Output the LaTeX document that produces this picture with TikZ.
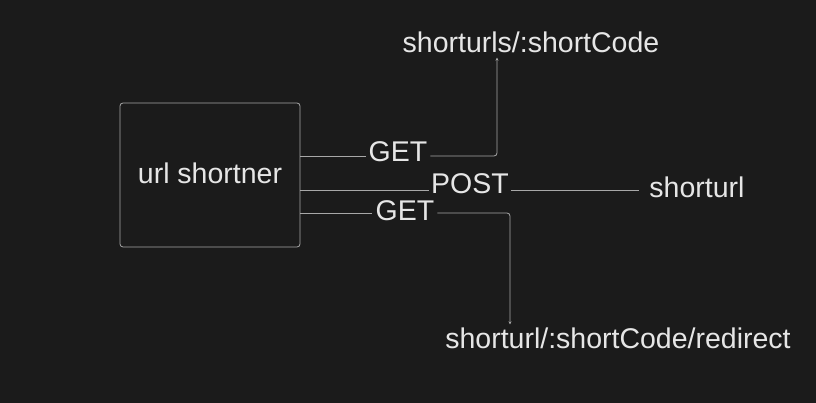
\documentclass[tikz,border=0pt]{standalone}
\usepackage{fontspec}
\setsansfont{Liberation Sans}
\usepackage{xcolor}
\usetikzlibrary{arrows.meta}
\definecolor{bg}{HTML}{1B1B1B}
\definecolor{ink}{HTML}{E6E6E6}
\definecolor{wirec}{HTML}{A8A8A8}

\begin{document}
\begin{tikzpicture}[
  x=1pt, y=-1pt,
  lbl/.style={inner sep=0pt, text=ink, font=\fontsize{28.5}{34}\selectfont\sffamily},
  svc/.style={draw=wirec, rounded corners=3pt, minimum width=180pt,
    minimum height=144pt, line width=0.8pt, text=ink,
    font=\fontsize{28.5}{34}\selectfont\sffamily},
  wire/.style={draw=wirec, line width=0.8pt, rounded corners=3pt},
  tip/.style={-{Stealth[length=3pt,width=3pt]}},
]
\useasboundingbox[fill=bg] (0,0) rectangle (816,403);
\node[svc] (app) at (210,175) {\raisebox{4pt}{url shortner}};
\node[lbl] (get1) at (398,152) {GET};
\node[lbl] (post) at (470,184) {POST};
\node[lbl] (get2) at (405,211) {GET};
\node[lbl] (codes) at (531,42) {shorturls/:shortCode};
\node[lbl] (short) at (697,187) {shorturl};
\node[lbl] (redir) at (618,338) {shorturl/:shortCode/redirect};
% GET shortCode
\draw[wire] (app.east |- 0,156) -- ([xshift=-3pt]get1.west |- 0,156);
\draw[wire, tip] ([xshift=3pt]get1.east |- 0,156) -| ([yshift=-5pt]codes.south -| 497,0);
% POST
\draw[wire] (app.east |- 0,190) -- ([xshift=-2pt]post.west |- 0,190);
\draw[wire] ([xshift=2pt]post.east |- 0,190) -- ([xshift=-10pt]short.west |- 0,190);
% GET redirect
\draw[wire] (app.east |- 0,213) -- ([xshift=-4pt]get2.west |- 0,213);
\draw[wire, tip] ([xshift=3pt]get2.east |- 0,213) -| ([yshift=3pt]redir.north -| 510,0);
\end{tikzpicture}
\end{document}
